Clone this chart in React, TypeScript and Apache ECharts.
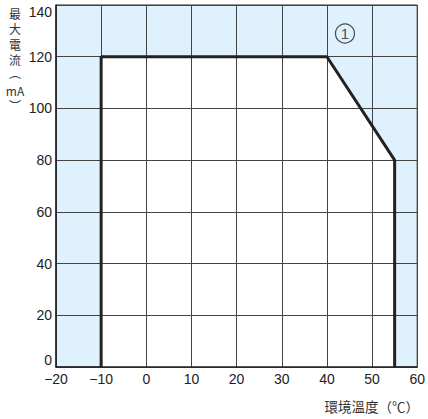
import React, { useEffect, useRef } from "react";
import * as echarts from "echarts";

const xTicks = [-20, -10, 0, 10, 20, 30, 40, 50, 60];
const yTicks = [0, 20, 40, 60, 80, 100, 120, 140];
const curveX = [-10, -10, 40, 55, 55];
const curveY = [0, 120, 120, 80, 0];
const markerPoint: [number, number, string] = [44, 129, "1"];
const yNameChars = ["最", "大", "電", "流"];
const yNameUnit = ["︵", "mA", "︶"];
const xName = "環境溫度（℃）";

export default function App() {
  const ref = useRef<HTMLDivElement>(null);
  useEffect(() => {
    const chart = echarts.init(ref.current!, null, { renderer: "svg" });
    const curve = curveX.map((x, i) => [x, curveY[i]]);
    const font = "'Liberation Sans', Arial, sans-serif";
    const cjk = "'Noto Sans CJK TC', sans-serif";
    const nameText = (text: string, y: number, size = 12) => ({
      type: "text",
      x: 15,
      y,
      style: {
        text,
        fontSize: size,
        fontFamily: cjk,
        fill: "#333",
        align: "center",
        verticalAlign: "middle",
      },
    });
    const unitYs = [72, 90, 105];
    chart.setOption({
      animation: false,
      backgroundColor: "#fff",
      grid: {
        left: 56,
        right: 9,
        top: 5,
        bottom: 52,
        show: true,
        backgroundColor: "#dff1fc",
        borderColor: "#222",
        borderWidth: 1,
        z: 0,
      },
      xAxis: {
        type: "value",
        min: xTicks[0],
        max: xTicks[xTicks.length - 1],
        interval: 10,
        z: 3,
        axisLine: { show: true, onZero: false, lineStyle: { color: "#222", width: 1.5 } },
        axisTick: { show: false },
        splitLine: { show: true, lineStyle: { color: "#444", width: 1 } },
        axisLabel: {
          color: "#222",
          fontSize: 14,
          fontFamily: font,
          margin: 5,
          formatter: (v: number) => (v < 0 ? "\u2212" + Math.abs(v) : String(v)),
        },
      },
      yAxis: {
        type: "value",
        min: yTicks[0],
        max: yTicks[yTicks.length - 1],
        interval: 20,
        z: 3,
        axisLine: { show: true, onZero: false, lineStyle: { color: "#222", width: 1.5 } },
        axisTick: { show: false },
        splitLine: { show: true, lineStyle: { color: "#444", width: 1 } },
        axisLabel: {
          color: "#222",
          fontSize: 14,
          fontFamily: font,
          margin: 4,
          verticalAlignMaxLabel: "top",
          verticalAlignMinLabel: "bottom",
        },
      },
      series: [
        {
          type: "line",
          data: curve,
          z: 1,
          symbol: "none",
          lineStyle: { width: 0, opacity: 0 },
          areaStyle: { color: "#ffffff", opacity: 1 },
          silent: true,
        },
        {
          type: "line",
          data: curve,
          z: 5,
          symbol: "none",
          lineStyle: { width: 3, color: "#222" },
          silent: true,
        },
        {
          type: "scatter",
          data: [[markerPoint[0], markerPoint[1]]],
          z: 6,
          symbol: "circle",
          symbolSize: 19,
          itemStyle: { color: "rgba(0,0,0,0)", borderColor: "#222", borderWidth: 1.2 },
          label: {
            show: true,
            position: "inside",
            formatter: markerPoint[2],
            color: "#222",
            fontSize: 15,
            fontFamily: font,
          },
          silent: true,
        },
      ],
      graphic: [
        ...yNameChars.map((c, i) => nameText(c, 13 + i * 15.5)),
        ...yNameUnit.map((c, i) => nameText(c, unitYs[i], 12)),
        {
          type: "text",
          right: 9,
          top: 399,
          style: {
            text: xName,
            fontSize: 13.5,
            fontFamily: cjk,
            fill: "#333",
          },
        },
      ],
    });
    return () => chart.dispose();
  }, []);
  return <div ref={ref} style={{ width: 428, height: 419, position: "fixed", left: 0, top: 0 }} />;
}
